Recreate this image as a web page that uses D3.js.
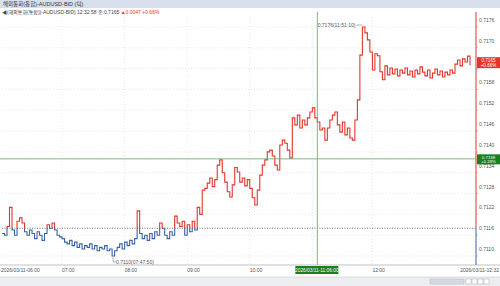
<!DOCTYPE html>
<html>
<head>
<meta charset="utf-8">
<script src="https://cdn.jsdelivr.net/npm/d3@7"></script>
<style>
  body { margin: 0; background: #fff; }
  text { font-family: "Liberation Sans", "Noto Sans CJK KR", sans-serif; }
</style>
</head>
<body>
<div id="chart"></div>
<script>
// tick chart values (price per tick)
var prices = [
  0.71165, 0.71160, 0.71185, 0.71240, 0.71175, 0.71160, 0.71200, 0.71210, 0.71195, 0.71170,
  0.71160, 0.71175, 0.71165, 0.71150, 0.71170, 0.71160, 0.71145, 0.71165, 0.71190, 0.71180,
  0.71195, 0.71175, 0.71160, 0.71155, 0.71150, 0.71140, 0.71135, 0.71145, 0.71130, 0.71140,
  0.71125, 0.71135, 0.71120, 0.71130, 0.71125, 0.71135, 0.71120, 0.71130, 0.71115, 0.71125,
  0.71120, 0.71130, 0.71115, 0.71120, 0.71100, 0.71115, 0.71125, 0.71135, 0.71120, 0.71140,
  0.71130, 0.71145, 0.71135, 0.71150, 0.71230, 0.71165, 0.71150, 0.71160, 0.71145, 0.71165,
  0.71150, 0.71170, 0.71160, 0.71195, 0.71180, 0.71160, 0.71150, 0.71170, 0.71160, 0.71215,
  0.71195, 0.71185, 0.71200, 0.71160, 0.71190, 0.71170, 0.71200, 0.71175, 0.71240, 0.71220,
  0.71290, 0.71295, 0.71310, 0.71325, 0.71300, 0.71320, 0.71362, 0.71377, 0.71340, 0.71313,
  0.71285, 0.71270, 0.71305, 0.71355, 0.71342, 0.71313, 0.71325, 0.71302, 0.71320, 0.71295,
  0.71268, 0.71247, 0.71290, 0.71333, 0.71362, 0.71377, 0.71400, 0.71405, 0.71388, 0.71362,
  0.71348, 0.71420, 0.71434, 0.71425, 0.71405, 0.71382, 0.71498, 0.71478, 0.71506, 0.71469,
  0.71492, 0.71478, 0.71498, 0.71515, 0.71527, 0.71498, 0.71486, 0.71463, 0.71469, 0.71434,
  0.71469, 0.71492, 0.71506, 0.71515, 0.71478, 0.71457, 0.71486, 0.71449, 0.71469, 0.71440,
  0.71434, 0.71492, 0.71550, 0.71679, 0.71760, 0.71743, 0.71723, 0.71688, 0.71636, 0.71683,
  0.71677, 0.71631, 0.71608, 0.71648, 0.71622, 0.71642, 0.71625, 0.71639, 0.71619, 0.71636,
  0.71627, 0.71642, 0.71622, 0.71633, 0.71616, 0.71636, 0.71625, 0.71645, 0.71630, 0.71619,
  0.71636, 0.71613, 0.71627, 0.71639, 0.71622, 0.71633, 0.71616, 0.71630, 0.71622, 0.71636,
  0.71627, 0.71653, 0.71665, 0.71648, 0.71668, 0.71659, 0.71676, 0.71650
];

// x axis labels at tick index (11:00 sits under the crosshair box)
var timeTickIndex = [0, 24, 49, 74, 99, 124, 148];
var timeTickLabels = ["2026/03/11-06:00", "07:00", "08:00", "09:00", "10:00", "11:00", "12:00"];
var lastTimeLabel = "2026/03/11-12:32";

// price axis
var priceTicks = [0.7110, 0.7116, 0.7122, 0.7128, 0.7134, 0.7140, 0.7146, 0.7152, 0.7158, 0.7164, 0.7170, 0.7176];
var prevClose = 0.7118;
var lastPrice = 0.7165;

// highs / lows / crosshair
var lowIndex = 44, lowLabel = "0.7110(07:47:50)";
var highIndex = 144, highLabel = "0.7176(11:51:10)";
var crossIndex = 126, crossPrice = 0.7138, crossTime = "2026/03/11-11:06:00";

var titleText = "해외통화(통합)-AUDUSD-BID (틱)";
var subText = "◀(해외통화(통합))-AUDUSD-BID) 12:32:58 종:0.7165";
var subChange = "▲0.0047 +0.66%";

(function () {
  var svg, x, y, W = 500, H = 286;
  var plot = {left: 2, right: 476, top: 17, bottom: 265};
  var red = "#e2352b", blue = "#3b62a8", green = "#6fae6f";

  function setup() {
    svg = d3.select("#chart").append("svg")
      .attr("width", W).attr("height", H)
      .style("display", "block");

    x = d3.scaleLinear().domain([0, prices.length - 1]).range([2, 470]);
    y = d3.scaleLinear().domain([0.7110, 0.7176]).range([256, 27]);
  }

  function fmtPct(v) {
    var p = (v - prevClose) / prevClose * 100;
    return (p >= 0 ? "+" : "") + p.toFixed(2) + "%";
  }

  function drawHeader() {
    svg.append("rect").attr("x", 0).attr("y", 0).attr("width", W).attr("height", 8)
      .attr("fill", "#d6dfeb");
    svg.append("text").attr("x", 3).attr("y", 6.3)
      .attr("font-size", 5.5).attr("fill", "#333").text(titleText);

    var t = svg.append("text").attr("x", 2).attr("y", 14)
      .attr("font-size", 5).attr("fill", "#444");
    t.append("tspan").text(subText + " ");
    t.append("tspan").attr("fill", red).text(subChange);
  }

  function drawGrid() {
    // horizontal dotted grid
    svg.append("g").selectAll("line").data(priceTicks).join("line")
      .attr("x1", plot.left).attr("x2", plot.right)
      .attr("y1", d => y(d)).attr("y2", d => y(d))
      .attr("stroke", "#d8d8d8").attr("stroke-width", 0.6)
      .attr("stroke-dasharray", "1,2");

    // vertical dotted grid on hours
    svg.append("g").selectAll("line").data(timeTickIndex.slice(1)).join("line")
      .attr("x1", d => x(d)).attr("x2", d => x(d))
      .attr("y1", plot.top).attr("y2", plot.bottom)
      .attr("stroke", "#d8d8d8").attr("stroke-width", 0.6)
      .attr("stroke-dasharray", "1,2");
  }

  function drawLine() {
    var line = d3.line().x((d, i) => x(i)).y(d => y(d)).curve(d3.curveStepAfter);
    var base = y(prevClose);

    var defs = svg.append("defs");
    defs.append("clipPath").attr("id", "clipUp").append("rect")
      .attr("x", 0).attr("y", 0).attr("width", W).attr("height", base);
    defs.append("clipPath").attr("id", "clipDn").append("rect")
      .attr("x", 0).attr("y", base).attr("width", W).attr("height", H - base);

    svg.append("path").datum(prices).attr("d", line)
      .attr("fill", "none").attr("stroke", red).attr("stroke-width", 1.1)
      .attr("clip-path", "url(#clipUp)");
    svg.append("path").datum(prices).attr("d", line)
      .attr("fill", "none").attr("stroke", blue).attr("stroke-width", 1.1)
      .attr("clip-path", "url(#clipDn)");

    // previous close dotted line
    svg.append("line").attr("x1", plot.left).attr("x2", plot.right)
      .attr("y1", base).attr("y2", base)
      .attr("stroke", "#333").attr("stroke-width", 0.7).attr("stroke-dasharray", "1,1.5");
  }

  function drawMarks() {
    // high label
    var hx = x(highIndex), hy = y(prices[highIndex]);
    svg.append("line").attr("x1", hx - 6).attr("x2", hx).attr("y1", hy - 2).attr("y2", hy - 2)
      .attr("stroke", "#666").attr("stroke-width", 0.5);
    svg.append("text").attr("x", hx - 7).attr("y", hy).attr("text-anchor", "end")
      .attr("font-size", 5).attr("fill", "#556").text(highLabel);

    // low label
    var lx = x(lowIndex), ly = y(prices[lowIndex]);
    svg.append("path").attr("d", "M" + (lx + 1) + "," + (ly + 1) + "V" + (ly + 6) + "H" + (lx + 4))
      .attr("fill", "none").attr("stroke", "#666").attr("stroke-width", 0.5);
    svg.append("text").attr("x", lx + 4).attr("y", ly + 8)
      .attr("font-size", 5).attr("fill", "#556").text(lowLabel);

    // crosshair
    var cx = x(crossIndex), cy = y(crossPrice);
    svg.append("line").attr("x1", 0).attr("x2", plot.right).attr("y1", cy).attr("y2", cy)
      .attr("stroke", green).attr("stroke-width", 0.9);
    svg.append("line").attr("x1", cx).attr("x2", cx).attr("y1", plot.top - 5).attr("y2", plot.bottom)
      .attr("stroke", green).attr("stroke-width", 0.9);
  }

  function drawAxes() {
    var base = y(prevClose);
    // right axis line: red above prev close, blue below
    svg.append("line").attr("x1", plot.right).attr("x2", plot.right)
      .attr("y1", plot.top - 5).attr("y2", base).attr("stroke", red).attr("stroke-width", 1);
    svg.append("line").attr("x1", plot.right).attr("x2", plot.right)
      .attr("y1", base).attr("y2", plot.bottom).attr("stroke", blue).attr("stroke-width", 1);

    svg.append("g").selectAll("text").data(priceTicks.filter(d => d !== 0.7164)).join("text")
      .attr("x", plot.right + 3).attr("y", d => y(d) - 5)
      .attr("font-size", 5).attr("fill", "#555")
      .text(d => d.toFixed(4));

    svg.append("g").selectAll("line").data(priceTicks).join("line")
      .attr("x1", plot.right).attr("x2", plot.right + 2)
      .attr("y1", d => y(d)).attr("y2", d => y(d))
      .attr("stroke", "#888").attr("stroke-width", 0.5);

    // last price box
    var ly = y(lastPrice);
    svg.append("rect").attr("x", plot.right + 1).attr("y", ly - 8).attr("width", 23).attr("height", 11)
      .attr("fill", red);
    svg.append("text").attr("x", plot.right + 12.5).attr("y", ly - 3.5).attr("text-anchor", "middle")
      .attr("font-size", 4.6).attr("fill", "#fff").text(lastPrice.toFixed(4));
    svg.append("text").attr("x", plot.right + 12.5).attr("y", ly + 1.5).attr("text-anchor", "middle")
      .attr("font-size", 4.6).attr("fill", "#fff").text(fmtPct(lastPrice));

    // crosshair price box
    var cy = y(crossPrice);
    svg.append("rect").attr("x", plot.right + 1).attr("y", cy - 4.5).attr("width", 23).attr("height", 10)
      .attr("fill", "#18801c");
    svg.append("text").attr("x", plot.right + 12.5).attr("y", cy - 0.2).attr("text-anchor", "middle")
      .attr("font-size", 4.4).attr("fill", "#fff").text(crossPrice.toFixed(4));
    svg.append("text").attr("x", plot.right + 12.5).attr("y", cy + 4.3).attr("text-anchor", "middle")
      .attr("font-size", 4.4).attr("fill", "#fff").text(fmtPct(crossPrice));

    // bottom time axis
    var cx = x(crossIndex);
    svg.append("line").attr("x1", 0).attr("x2", W).attr("y1", plot.bottom).attr("y2", plot.bottom)
      .attr("stroke", "#999").attr("stroke-width", 0.6);
    var shown = timeTickIndex.filter(d => Math.abs(x(d) - cx) > 24);
    svg.append("g").selectAll("text").data(shown).join("text")
      .attr("x", d => d === 0 ? 1 : x(d))
      .attr("y", plot.bottom + 7)
      .attr("font-size", 5).attr("fill", "#555")
      .text(d => timeTickLabels[timeTickIndex.indexOf(d)]);
    svg.append("text").attr("x", W - 1).attr("y", plot.bottom + 7).attr("text-anchor", "end")
      .attr("font-size", 5).attr("fill", "#555").text(lastTimeLabel);

    // crosshair time box
    svg.append("rect").attr("x", cx - 22).attr("y", plot.bottom + 1).attr("width", 43).attr("height", 8)
      .attr("fill", "#18801c");
    svg.append("text").attr("x", cx - 0.5).attr("y", plot.bottom + 7).attr("text-anchor", "middle")
      .attr("font-size", 4.8).attr("fill", "#fff").text(crossTime);

    // scrollbar strip
    svg.append("rect").attr("x", 0).attr("y", 277).attr("width", W).attr("height", 9)
      .attr("fill", "#eceef2");
    svg.append("line").attr("x1", 0).attr("x2", W).attr("y1", 277).attr("y2", 277)
      .attr("stroke", "#c8ccd4").attr("stroke-width", 0.6);
    svg.append("rect").attr("x", 430).attr("y", 279).attr("width", 34).attr("height", 5)
      .attr("fill", "#d6dae2").attr("stroke", "#aab").attr("stroke-width", 0.4);
    var btns = ["◀", "▶", "−", "+"];
    svg.append("g").selectAll("rect").data(btns).join("rect")
      .attr("x", (d, i) => 466 + i * 6).attr("y", 279).attr("width", 5).attr("height", 5)
      .attr("fill", "#fff").attr("stroke", "#999").attr("stroke-width", 0.4);
  }

  setup();
  drawHeader();
  drawGrid();
  drawLine();
  drawMarks();
  drawAxes();
})();
</script>
</body>
</html>
